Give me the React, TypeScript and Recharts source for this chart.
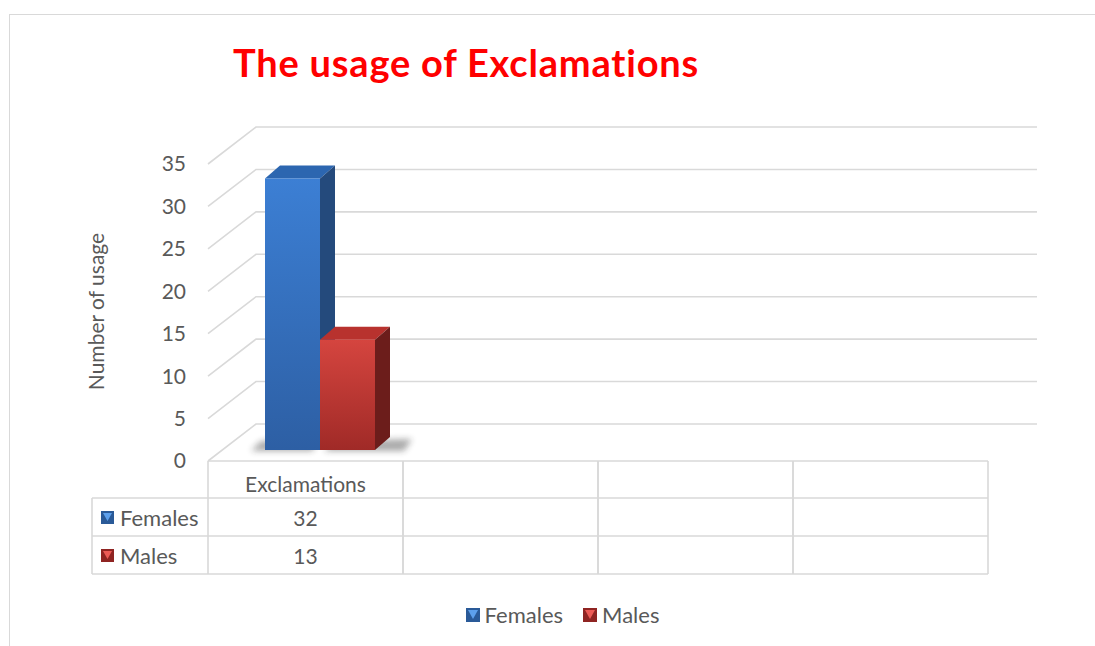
import React from "react";
import {Bar, BarChart, CartesianGrid, XAxis, YAxis} from "recharts";

const CATEGORIES = ["Exclamations", "", "", ""];
const FEMALES = [32, null, null, null];
const MALES = [13, null, null, null];
const Y_TICKS = [0, 5, 10, 15, 20, 25, 30, 35];

const SERIES = [
    {key: "females", name: "Females", values: FEMALES, front: ["#3c7fd4", "#2d5fa4"], side: "#244a7c", top: "#2c66b0", icon: ["#2a5a98", "#5da0ec"]},
    {key: "males", name: "Males", values: MALES, front: ["#d5453f", "#a02a27"], side: "#6c1d1b", top: "#b8322e", icon: ["#8f2422", "#ec5a55"]},
];

const data = CATEGORIES.map((category, i) => ({
    category,
    females: FEMALES[i],
    males: MALES[i],
}));

const FONT = "Lato, 'Open Sans', sans-serif";
const TEXT = "#595959";
const LINE = "#d9d9d9";
const FS = 21;

// 3d offsets
const BACK_X = 48;
const BACK_Y = -37;
const BAR_X = 14;
const BAR_Y = -11;
const DEPTH_X = 15;
const DEPTH_Y = -13;

function GridLine(props: any) {
    const {x1, y1, x2} = props;
    return (
        <path
            key={props.key}
            d={`M${x1},${y1} L${x1 + BACK_X},${y1 + BACK_Y} L${x2 + BACK_X + 1},${y1 + BACK_Y}`}
            stroke={LINE}
            strokeWidth={1.6}
            fill="none"
        />
    );
}

function Bar3D(props: any) {
    const {x, y, width, height, series} = props;
    if (!height || height <= 0) return null;
    const s = SERIES[series];
    const fx = x + BAR_X;
    const fy = y + BAR_Y;
    const bottom = y + height + BAR_Y;
    const gid = `front-${s.key}`;
    const first = series === 0;
    const last = series === SERIES.length - 1;
    const sl = first ? fx - 14 : fx + 4;
    const sr = last ? fx + width + DEPTH_X + 22 : fx + width;
    return (
        <g>
            <defs>
                <linearGradient id={gid} x1="0" y1="0" x2="0" y2="1">
                    <stop offset="0%" stopColor={s.front[0]}/>
                    <stop offset="100%" stopColor={s.front[1]}/>
                </linearGradient>
                <filter id={`blur-${s.key}`} x="-50%" y="-200%" width="200%" height="500%">
                    <feGaussianBlur stdDeviation="3"/>
                </filter>
            </defs>
            <polygon
                points={`${sl},${bottom + 1} ${sr - 8},${bottom + 1} ${sr},${bottom + DEPTH_Y + 2} ${sl + 10},${bottom + DEPTH_Y + 4}`}
                fill="#222"
                opacity={0.38}
                filter={`url(#blur-${s.key})`}
            />
            <polygon
                points={`${fx},${fy} ${fx + width},${fy} ${fx + width + DEPTH_X},${fy + DEPTH_Y} ${fx + DEPTH_X},${fy + DEPTH_Y}`}
                fill={s.top}
            />
            <polygon
                points={`${fx + width},${fy} ${fx + width + DEPTH_X},${fy + DEPTH_Y} ${fx + width + DEPTH_X},${bottom + DEPTH_Y} ${fx + width},${bottom}`}
                fill={s.side}
            />
            <rect x={fx} y={fy} width={width} height={bottom - fy} fill={`url(#${gid})`}/>
        </g>
    );
}

function LegendIcon({colors, size = 14}: { colors: string[], size?: number }) {
    return (
        <svg width={size} height={size} style={{display: "block"}}>
            <rect x={0} y={0} width={size} height={size} fill={colors[0]}/>
            <polygon points={`2,2 ${size - 2},2 ${size / 2},${size - 3}`} fill={colors[1]}/>
        </svg>
    );
}

function TableCell(props: any) {
    const {x, y, payload, visibleTicksCount, width} = props;
    const i = payload?.index ?? props.index;
    const band = width && visibleTicksCount ? width / visibleTicksCount : (payload?.offset ? payload.offset * 2 : 195);
    const left = x - band / 2;
    const right = x + band / 2;
    const rows = [y, y + 37, y + 75, y + 113];
    const lineProps = {stroke: LINE, strokeWidth: 1.6};
    const textProps = {fill: TEXT, fontSize: FS, fontFamily: FONT, textAnchor: "middle" as const, dominantBaseline: "central" as const};
    const legendLeft = left - 116;
    return (
        <g>
            {rows.map((ry, k) => <line key={k} x1={left} x2={right} y1={ry} y2={ry} {...lineProps}/>)}
            <line x1={left} x2={left} y1={rows[0]} y2={rows[3]} {...lineProps}/>
            <line x1={right} x2={right} y1={rows[0]} y2={rows[3]} {...lineProps}/>
            <text x={x} y={y + 22} {...textProps}>{payload?.value}</text>
            {SERIES.map((s, k) => (
                <text key={s.key} x={x} y={y + 56 + k * 38} {...textProps}>
                    {s.values[i] ?? ""}
                </text>
            ))}
            {i === 0 && (
                <g>
                    {rows.slice(1).map((ry, k) => <line key={k} x1={legendLeft} x2={left} y1={ry} y2={ry} {...lineProps}/>)}
                    <line x1={legendLeft} x2={legendLeft} y1={rows[1]} y2={rows[3]} {...lineProps}/>
                    {SERIES.map((s, k) => (
                        <g key={s.key}>
                            <rect x={legendLeft + 9} y={y + 50 + k * 38} width={13} height={13} fill={s.icon[0]}/>
                            <polygon
                                points={`${legendLeft + 11},${y + 52 + k * 38} ${legendLeft + 20},${y + 52 + k * 38} ${legendLeft + 15.5},${y + 60 + k * 38}`}
                                fill={s.icon[1]}
                            />
                            <text x={legendLeft + 28} y={y + 56 + k * 38} {...textProps} fontSize={22} textAnchor="start">{s.name}</text>
                        </g>
                    ))}
                </g>
            )}
        </g>
    );
}

function AxisTitle(props: any) {
    const vb = props.viewBox || {x: 0, y: 164, width: 208, height: 297};
    const cx = vb.x + 95;
    const cy = vb.y + vb.height / 2 - 1;
    return (
        <text x={cx} y={cy} transform={`rotate(-90 ${cx} ${cy})`} textAnchor="middle" dominantBaseline="central"
              fill={TEXT} fontSize={FS} fontFamily={FONT}>
            Number of usage
        </text>
    );
}

export default function App() {
    return (
        <div style={{position: "absolute", left: 0, top: 0, width: 1095, height: 646, overflow: "hidden", background: "#fff"}}>
            <div style={{position: "absolute", left: 9, top: 14, width: 1200, height: 800, border: `1.5px solid ${LINE}`}}/>
            <div style={{
                position: "absolute", left: 0, top: 38, width: 932, textAlign: "center", lineHeight: "48px",
                color: "#ff0000", fontWeight: 700, fontSize: 38, letterSpacing: 0.8, fontFamily: FONT
            }}>
                The usage of Exclamations
            </div>
            <div style={{position: "absolute", left: 0, top: 0}}>
                <BarChart width={1095} height={646} data={data} margin={{top: 164, right: 107, bottom: 65, left: 0}}
                          barGap={0} barSize={55}>
                    <CartesianGrid vertical={false} horizontal={GridLine}/>
                    <YAxis
                        width={208}
                        domain={[0, 35]}
                        ticks={Y_TICKS}
                        interval={0}
                        axisLine={false}
                        tickLine={false}
                        tickMargin={16}
                        tick={{fill: TEXT, fontSize: FS, fontFamily: FONT}}
                        label={<AxisTitle/>}
                    />
                    <XAxis
                        dataKey="category"
                        height={120}
                        interval={0}
                        axisLine={false}
                        tickLine={false}
                        tickSize={0}
                        tickMargin={0}
                        tick={<TableCell/>}
                    />
                    {SERIES.map((s, k) => (
                        <Bar key={s.key} dataKey={s.key} name={s.name} isAnimationActive={false}
                             shape={(p: any) => <Bar3D {...p} series={k}/>}/>
                    ))}
                </BarChart>
            </div>
            <div style={{
                position: "absolute", left: 15, top: 601, width: 1095, display: "flex", justifyContent: "center",
                alignItems: "center", gap: 20, fontFamily: FONT, fontSize: 22, color: TEXT
            }}>
                {SERIES.map(s => (
                    <div key={s.key} style={{display: "flex", alignItems: "center", gap: 5}}>
                        <LegendIcon colors={s.icon}/>
                        <span>{s.name}</span>
                    </div>
                ))}
            </div>
        </div>
    );
}
